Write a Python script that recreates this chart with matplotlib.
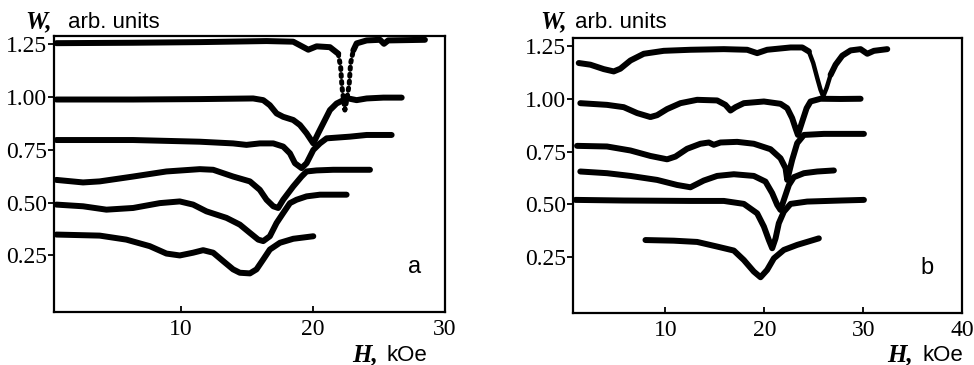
import matplotlib
matplotlib.use("Agg")
import matplotlib.pyplot as plt
import numpy as np

# ---------------- data: panel a ----------------
a1_h = [0.58, 6.39, 11.44, 16.49, 18.51, 19.65, 20.28, 21.29, 21.92, 22.10, 22.20, 22.30, 22.42,
        22.60, 22.75, 22.85, 23.06, 23.31, 24.07, 25.08, 25.38, 25.70, 28.48]
a1_w = [1.256, 1.258, 1.261, 1.266, 1.263, 1.225, 1.241, 1.237, 1.206, 1.143, 1.049, 0.998, 0.939,
        1.000, 1.064, 1.159, 1.222, 1.255, 1.269, 1.272, 1.253, 1.269, 1.272]

a2_h = [0.58, 6.39, 11.44, 15.48, 16.24, 16.74, 17.25, 17.75, 18.51, 19.02, 19.52, 20.03, 20.40,
        20.78, 21.29, 21.79, 22.30, 22.68, 23.31, 24.07, 25.33, 26.72]
a2_w = [0.989, 0.989, 0.991, 0.994, 0.986, 0.962, 0.923, 0.907, 0.892, 0.868, 0.829, 0.781, 0.829,
        0.876, 0.939, 0.970, 0.986, 0.994, 0.986, 0.994, 0.998, 0.998]

a3_h = [0.58, 6.39, 11.44, 13.96, 14.97, 15.98, 17.0, 17.75, 18.26, 18.64, 19.14, 19.52, 20.03,
        20.53, 21.04, 22.80, 24.07, 25.96]
a3_w = [0.797, 0.797, 0.789, 0.781, 0.774, 0.781, 0.781, 0.766, 0.734, 0.687, 0.664, 0.687, 0.750,
        0.781, 0.805, 0.813, 0.821, 0.821]

a4_h = [0.58, 2.60, 3.86, 6.39, 8.91, 11.44, 12.45, 13.96, 15.23, 15.98, 16.49, 17.0, 17.37, 17.75,
        18.51, 19.14, 19.52, 20.28, 21.54, 24.32]
a4_w = [0.608, 0.596, 0.601, 0.624, 0.648, 0.659, 0.656, 0.624, 0.601, 0.561, 0.514, 0.483, 0.475,
        0.514, 0.577, 0.624, 0.648, 0.653, 0.656, 0.656]

a5_h = [0.58, 2.60, 4.37, 6.39, 8.41, 9.92, 10.93, 11.94, 13.46, 14.47, 15.23, 15.86, 16.24, 16.74,
        17.25, 17.75, 18.26, 18.76, 19.52, 20.53, 22.55]
a5_w = [0.491, 0.483, 0.467, 0.475, 0.498, 0.506, 0.491, 0.459, 0.428, 0.396, 0.357, 0.325, 0.318,
        0.341, 0.404, 0.451, 0.498, 0.514, 0.530, 0.538, 0.538]

a6_h = [0.58, 3.86, 5.88, 7.65, 8.91, 9.92, 10.93, 11.69, 12.45, 13.21, 13.96, 14.47, 15.23, 15.73,
        16.24, 16.74, 17.50, 18.51, 20.03]
a6_w = [0.349, 0.344, 0.325, 0.294, 0.259, 0.250, 0.263, 0.275, 0.263, 0.223, 0.184, 0.168, 0.165,
        0.184, 0.231, 0.278, 0.310, 0.329, 0.341]

# ---------------- data: panel b ----------------
b1_h = [1.23, 2.41, 3.76, 4.77, 5.44, 6.46, 7.81, 9.83, 12.53, 15.91, 18.27, 19.28, 20.29, 22.66,
        23.84, 24.51, 24.95, 25.36, 25.69, 25.96, 26.30, 26.71, 27.21, 27.89, 28.73, 29.74, 30.42,
        31.09, 32.44]
b1_w = [1.171, 1.163, 1.142, 1.131, 1.144, 1.183, 1.215, 1.229, 1.234, 1.237, 1.234, 1.218, 1.234,
        1.245, 1.245, 1.226, 1.171, 1.099, 1.044, 1.012, 1.052, 1.115, 1.163, 1.206, 1.231, 1.237,
        1.215, 1.229, 1.237]

b2_h = [1.39, 4.09, 5.78, 7.13, 8.48, 9.16, 10.17, 11.52, 13.21, 15.23, 16.07, 16.58, 17.09, 17.93,
        19.96, 21.64, 22.32, 22.82, 23.16, 23.40, 23.84, 24.28, 24.68, 25.69, 27.72, 29.74]
b2_w = [0.980, 0.972, 0.961, 0.933, 0.914, 0.923, 0.952, 0.980, 0.996, 0.993, 0.972, 0.945, 0.961,
        0.980, 0.988, 0.977, 0.956, 0.909, 0.861, 0.829, 0.893, 0.956, 0.988, 1.001, 1.000, 1.001]

b3_h = [1.06, 4.09, 6.46, 8.48, 10.17, 11.01, 12.19, 13.54, 14.39, 14.89, 15.57, 17.26, 18.94, 20.63,
        21.64, 22.15, 22.32, 22.82, 23.33, 24.01, 26.03, 30.08]
b3_w = [0.777, 0.774, 0.755, 0.729, 0.713, 0.726, 0.763, 0.787, 0.793, 0.782, 0.793, 0.796, 0.787,
        0.761, 0.718, 0.671, 0.615, 0.710, 0.790, 0.829, 0.834, 0.834]

b4_h = [1.39, 4.09, 6.46, 9.16, 11.18, 12.53, 13.88, 15.23, 16.92, 18.94, 20.12, 20.80, 21.31, 21.64,
        21.98, 22.49, 22.99, 24.01, 25.36, 27.04]
b4_w = [0.655, 0.647, 0.634, 0.615, 0.591, 0.580, 0.612, 0.634, 0.642, 0.634, 0.607, 0.552, 0.496,
        0.472, 0.520, 0.591, 0.628, 0.647, 0.655, 0.660]

b5_h = [0.89, 5.78, 12.53, 15.91, 17.93, 19.28, 19.96, 20.46, 20.80, 21.14, 21.47, 21.98, 22.66,
        24.34, 27.72, 30.08]
b5_w = [0.520, 0.517, 0.515, 0.515, 0.501, 0.456, 0.393, 0.329, 0.290, 0.337, 0.409, 0.464, 0.501,
        0.512, 0.517, 0.520]

b6_h = [7.98, 10.84, 13.21, 15.23, 16.92, 17.93, 18.94, 19.62, 20.29, 20.97, 21.98, 23.33, 25.52]
b6_w = [0.329, 0.326, 0.320, 0.298, 0.279, 0.234, 0.179, 0.152, 0.187, 0.242, 0.282, 0.306, 0.337]

y_ticks = [0.25, 0.50, 0.75, 1.00, 1.25]
y_ticklabels = ["0.25", "0.50", "0.75", "1.00", "1.25"]
xa_ticks = [10, 20, 30]
xb_ticks = [10, 20, 30, 40]

# ---------------- figure ----------------
W_PX, H_PX = 974, 365
fig = plt.figure(figsize=(W_PX / 100, H_PX / 100), dpi=100)

def rect(l, r, t, b):
    return [l / W_PX, 1 - b / H_PX, (r - l) / W_PX, (b - t) / H_PX]

ax_a = fig.add_axes(rect(54, 445, 36, 312))
ax_b = fig.add_axes(rect(573, 962, 38, 313))

LW = 4.3
kw = dict(color="black", lw=LW, solid_capstyle="round", solid_joinstyle="round")
kw_dot = dict(color="black", lw=3.6, linestyle=(0, (0.4, 1.0)), dash_capstyle="round")

# panel a
i0, i1 = 8, 16
ax_a.plot(a1_h[:i0 + 1], a1_w[:i0 + 1], **kw)
ax_a.plot(a1_h[i0:i1 + 1], a1_w[i0:i1 + 1], **kw_dot)
ax_a.plot(a1_h[i1:], a1_w[i1:], **kw)
for h, w in [(a2_h, a2_w), (a3_h, a3_w), (a4_h, a4_w), (a5_h, a5_w), (a6_h, a6_w)]:
    ax_a.plot(h, w, **kw)

# panel b
j0, j1 = 15, 21
ax_b.plot(b1_h[:j0 + 1], b1_w[:j0 + 1], **kw)
ax_b.plot(b1_h[j0:j1 + 1], b1_w[j0:j1 + 1], color="black", lw=3.2,
          solid_capstyle="round")
ax_b.plot(b1_h[j1:], b1_w[j1:], **kw)
for h, w in [(b2_h, b2_w), (b3_h, b3_w), (b4_h, b4_w), (b5_h, b5_w), (b6_h, b6_w)]:
    ax_b.plot(h, w, **kw)

serif = "Liberation Serif"
for ax, xl, xt in [(ax_a, (0.40, 30), xa_ticks), (ax_b, (0.65, 40), xb_ticks)]:
    ax.set_xlim(*xl)
    ax.set_ylim(-0.018, 1.29)
    ax.set_xticks(xt)
    ax.set_xticklabels([str(t) for t in xt], fontfamily=serif, fontsize=17)
    ax.set_yticks(y_ticks)
    ax.set_yticklabels(y_ticklabels, fontfamily=serif, fontsize=17)
    ax.tick_params(axis="y", direction="out", length=4, width=1.3, pad=1)
    ax.tick_params(axis="x", direction="in", length=4, width=1.3, pad=5)
    for s in ax.spines.values():
        s.set_linewidth(1.6)

def ftxt(x, y, s, **k):
    fig.text(x / W_PX, 1 - y / H_PX, s, **k)

# axis titles
for xw, xa in [(25, 68), (540, 575)]:
    ftxt(xw, 28, "W,", fontfamily=serif, fontweight="bold", fontstyle="italic",
         fontsize=18, va="baseline", ha="left")
    ftxt(xa, 28, "arb. units", fontfamily="Liberation Sans", fontsize=16,
         va="baseline", ha="left")
for xh, xk in [(352, 386), (887, 922)]:
    ftxt(xh, 361, "H,", fontfamily=serif, fontweight="bold", fontstyle="italic",
         fontsize=18, va="baseline", ha="left")
    ftxt(xk, 361, "kOe", fontfamily="Liberation Sans", fontsize=16,
         va="baseline", ha="left")

ftxt(415, 267, "a", fontfamily="Liberation Sans", fontsize=17, ha="center", va="center")
ftxt(927, 268, "b", fontfamily="Liberation Sans", fontsize=17, ha="center", va="center")

fig.savefig("out.png", dpi=100)
